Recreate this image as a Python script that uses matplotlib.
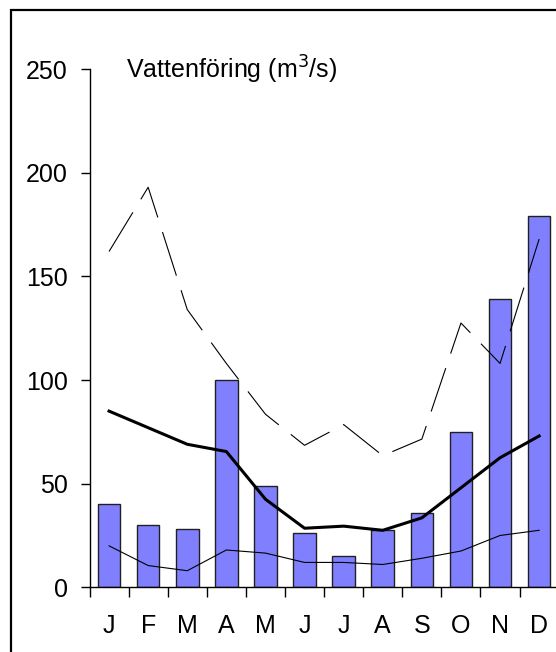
import matplotlib
matplotlib.use("Agg")
import matplotlib.pyplot as plt
from matplotlib.patches import Rectangle

plt.rcParams['font.family'] = ['Liberation Sans', 'DejaVu Sans']
plt.rcParams['lines.scale_dashes'] = False

months = ['J', 'F', 'M', 'A', 'M', 'J', 'J', 'A', 'S', 'O', 'N', 'D']
flow = [40, 30, 28, 100, 49, 26, 15, 27.5, 36, 75, 139, 179]
mean_flow = [85, 77, 69, 65.5, 42.5, 28.5, 29.5, 27.5, 33.5, 48, 62.5, 73]
max_flow = [162, 193, 134, 108, 83.5, 68.5, 78.5, 63.5, 71.5, 127.5, 108, 168]
min_flow = [20, 10.5, 8, 18, 16.5, 12, 12, 11, 14, 17.5, 25, 27.5]

W, H = 556, 652
fig = plt.figure(figsize=(W / 100, H / 100), dpi=100)
ax = fig.add_axes([89.5 / W, (H - 587.3) / H, (558.7 - 89.5) / W, (587.3 - 69.1) / H])

x = list(range(len(months)))
ax.bar(x, flow, width=0.58, color='#8080ff', edgecolor='#202020', linewidth=1.0, zorder=2)
ax.plot(x, max_flow, color='black', lw=0.8, dashes=[33, 11], zorder=3)
ax.plot(x, mean_flow, color='black', lw=2.2, zorder=3)
ax.plot(x, min_flow, color='black', lw=0.8, zorder=3)

ax.set_xlim(-0.5, 11.5)
ax.set_ylim(0, 250)
ax.set_yticks([0, 50, 100, 150, 200, 250])
ax.set_xticks([i - 0.5 for i in x])
ax.set_xticklabels([])
ax.set_xticks(x, minor=True)
ax.set_xticklabels(months, minor=True, fontsize=18)
ax.tick_params(axis='x', which='minor', length=0, pad=19)
ax.tick_params(axis='x', which='major', length=7.5, width=1.0, direction='out')
ax.tick_params(axis='y', length=6.3, width=1.0, direction='out', labelsize=18, pad=9.5)

for s in ['top', 'right']:
    ax.spines[s].set_visible(False)
for s in ['left', 'bottom']:
    ax.spines[s].set_linewidth(1.0)
ax.spines['bottom'].set_clip_on(False)

ax.text(0.43, 245.2, 'Vattenföring (m$^3$/s)', fontsize=18, va='baseline', ha='left',
        math_fontfamily='custom')

fig.patches.append(Rectangle((11 / W, -0.1), 2, (H - 10) / H + 0.1, transform=fig.transFigure,
                             fill=False, edgecolor='black', linewidth=1.6))

fig.savefig('out.png', dpi=100)
